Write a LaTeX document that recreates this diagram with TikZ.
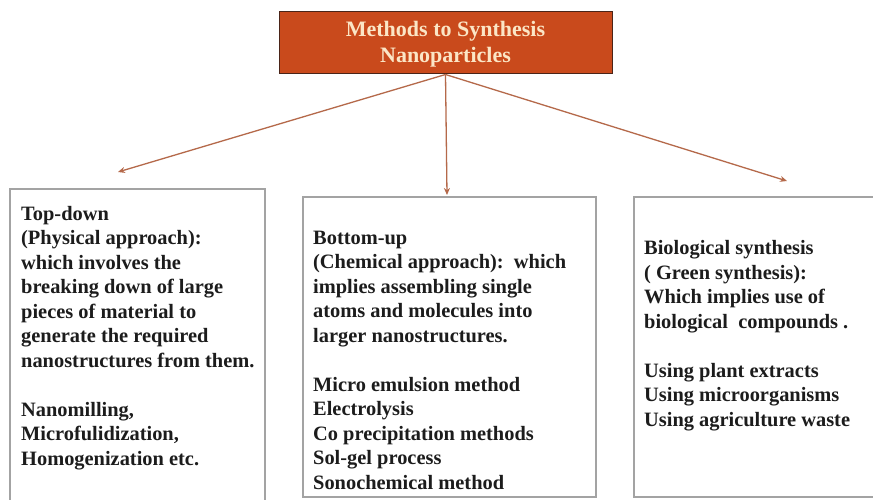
\documentclass[tikz,border=0pt]{standalone}
\usepackage{fontspec}
\setmainfont{Liberation Serif}
\usepackage{xcolor}
\usetikzlibrary{arrows.meta,positioning}
\definecolor{titlered}{HTML}{C94A1C}
\definecolor{titleedge}{HTML}{4A2418}
\definecolor{titletext}{HTML}{FBE6C6}
\definecolor{arrowbrown}{HTML}{B5694A}
\definecolor{boxgray}{HTML}{A3A3A3}
\definecolor{inktext}{HTML}{1C1C1C}

\begin{document}
\begin{tikzpicture}[x=1pt,y=-1pt,
  methodbox/.style={draw=boxgray,line width=1.5pt,inner sep=0pt},
  boxtext/.style={anchor=base west,align=left,inner sep=0pt,text=inktext,
    font=\fontsize{20.4}{24.5}\selectfont\bfseries},
  branch/.style={draw=arrowbrown,line width=1.3pt,-{Stealth[length=7pt,width=6pt]}}]
  \useasboundingbox (0,0) rectangle (873,500);
  \fill[white] (0,0) rectangle (873,500);
  \clip (0,0) rectangle (873,500);
  % title
  \node[draw=titleedge,fill=titlered,line width=1pt,minimum width=333pt,minimum height=62pt] (title) at (445.5,43) {};
  \node[anchor=base,align=center,inner sep=0pt,text=titletext,
    font=\fontsize{22}{26}\selectfont\bfseries] (titletxt) at (445.5,63)
    {Methods to Synthesis\\Nanoparticles};
  % the three approaches
  \node[methodbox,minimum width=255pt,minimum height=323pt] (topdown) at (137.5,350.5) {};
  \node[methodbox,minimum width=293pt,minimum height=300pt] (bottomup) at (449.5,347) {};
  \node[methodbox,minimum width=246pt,minimum height=300pt] (bio) at (757,347) {};
  % multi-line nodes sit on the baseline of their last line
  \node[boxtext] (topdowntxt) at (21,465) {Top-down\\(Physical approach):\\which involves the\\
    breaking down of large\\pieces of material to\\generate the required\\
    nanostructures from them.\\[24.5pt]Nanomilling,\\Microfulidization,\\Homogenization etc.};
  \node[boxtext] (bottomuptxt) at (313,489) {Bottom-up\\(Chemical approach):\ \ which\\
    implies assembling single\\atoms and molecules into\\larger nanostructures.\\[24.5pt]
    Micro emulsion method\\Electrolysis\\Co precipitation methods\\Sol-gel process\\
    Sonochemical method};
  \node[boxtext] (biotxt) at (644,426) {Biological synthesis\\(\ Green synthesis):\\
    Which implies use of\\biological\ \ compounds\ .\\[24.5pt]Using plant extracts\\
    Using microorganisms\\Using agriculture waste};
  % arrows
  \coordinate (toleft) at (118,172);
  \coordinate (tomid) at (447,195);
  \coordinate (toright) at (787,181);
  \foreach \t in {toleft,tomid,toright}{
    \draw[branch] (title.south) -- (\t);
  }
\end{tikzpicture}
\end{document}
